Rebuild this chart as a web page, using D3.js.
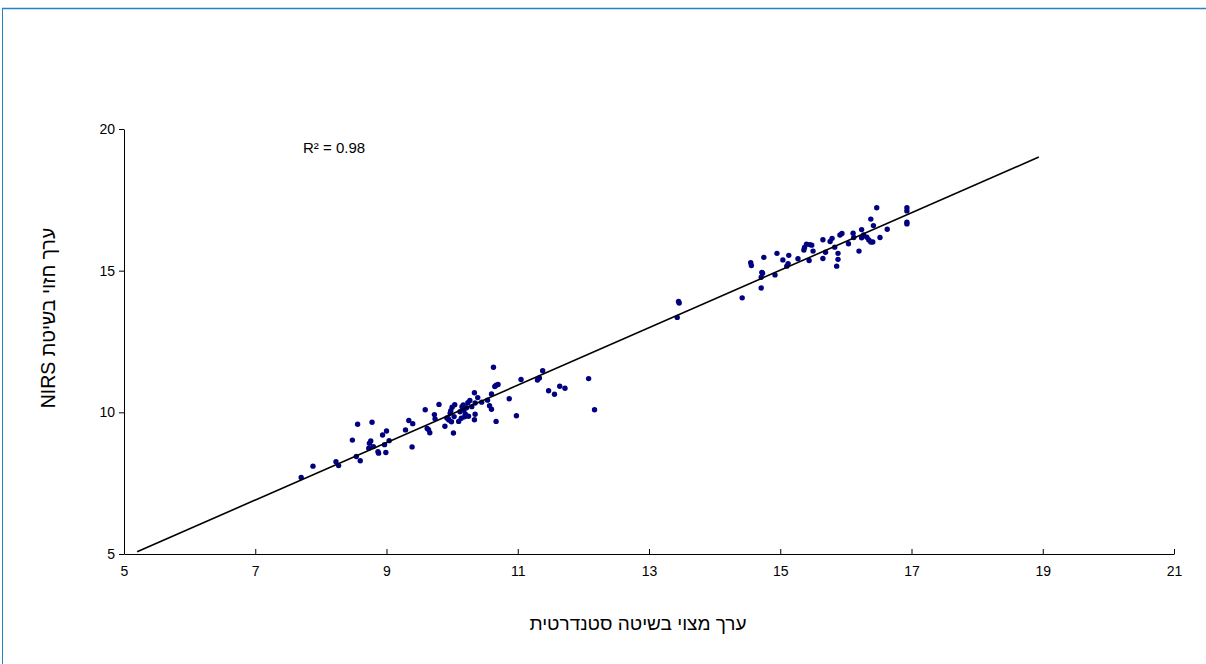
<!DOCTYPE html>
<html>
<head>
<meta charset="utf-8">
<script src="https://cdn.jsdelivr.net/npm/d3@7/dist/d3.min.js"></script>
<style>
  html, body { margin: 0; padding: 0; background: #fff; }
  svg { display: block; font-family: "Liberation Sans", Arial, sans-serif; }
</style>
</head>
<body>
<svg id="chart" width="1206" height="664"></svg>
<script>
// Measured by the standard method (x) vs. NIRS prediction (y)
const standardValues = [
  7.70, 7.88, 8.23, 8.27, 8.54, 8.60, 8.48, 8.56, 8.78, 8.76, 8.74, 8.73, 8.80, 8.87, 8.88,
  8.99, 8.94, 9.00, 8.97, 9.04, 9.29, 9.34, 9.40, 9.39, 9.59, 9.62, 9.64, 9.66, 9.73, 9.74,
  9.80, 9.89, 10.02, 9.94, 9.97, 9.98, 10.00, 10.04, 9.99, 10.03, 10.10, 10.12, 10.15, 10.18,
  10.20, 10.22, 10.25, 10.27, 10.30, 10.34, 10.35, 10.35, 10.34, 10.39, 10.45, 10.54, 10.57,
  10.60, 10.60, 10.63, 10.65, 10.67, 10.70, 10.67, 10.87, 10.98, 11.05, 11.30, 11.33, 11.38,
  11.47, 11.56, 11.64, 11.72, 12.08, 12.17,
  10.17, 10.24, 9.95, 9.92, 10.14, 10.19,
  13.45, 13.46, 13.43, 14.42, 14.71, 14.71, 14.73, 14.72, 14.55, 14.56, 14.75, 14.92, 14.95,
  15.04, 15.10, 15.12, 15.13, 15.27, 15.36, 15.37, 15.40, 15.45, 15.48, 15.44, 15.50, 15.65,
  15.65, 15.69, 15.76, 15.79, 15.83, 15.88, 15.88, 15.86, 15.91, 15.94, 16.04, 16.11, 16.12,
  16.20, 16.24, 16.24, 16.27, 16.32, 16.35, 16.38, 16.41, 16.38, 16.42, 16.47, 16.52, 16.63,
  16.93, 16.93, 16.93, 16.93
];
const nirsValues = [
  7.70, 8.10, 8.26, 8.12, 8.44, 8.29, 9.02, 9.58, 9.65, 8.99, 8.91, 8.73, 8.79, 8.61, 8.56,
  8.58, 9.20, 9.34, 8.86, 9.00, 9.38, 9.71, 9.60, 8.78, 10.09, 9.43, 9.39, 9.28, 9.92, 9.77,
  10.28, 9.51, 9.27, 9.78, 9.97, 10.06, 10.18, 10.27, 9.67, 9.85, 9.68, 10.02, 10.20, 10.08,
  9.94, 10.16, 9.86, 10.42, 10.20, 10.69, 10.33, 9.93, 9.74, 10.52, 10.36, 10.43, 10.23,
  10.11, 10.65, 11.59, 10.91, 10.96, 10.98, 9.68, 10.48, 9.88, 11.16, 11.14, 11.21, 11.47,
  10.76, 10.64, 10.92, 10.85, 11.19, 10.09,
  10.26, 10.34, 9.73, 9.80, 9.79, 9.84,
  13.91, 13.86, 13.35, 14.04, 14.39, 14.77, 14.91, 14.94, 15.28, 15.18, 15.47, 14.85, 15.61,
  15.38, 15.16, 15.25, 15.54, 15.42, 15.73, 15.82, 15.93, 15.92, 15.90, 15.36, 15.69, 16.09,
  15.43, 15.65, 16.03, 16.14, 15.83, 15.61, 15.40, 15.16, 16.26, 16.31, 15.95, 16.32, 16.17,
  15.69, 16.45, 16.16, 16.26, 16.18, 16.08, 16.01, 16.01, 16.82, 16.59, 17.22, 16.17, 16.46,
  17.22, 17.11, 16.71, 16.65
];

// Linear trend line endpoints
const trendX = [5.2, 18.94];
const trendY = [5.08, 19.01];

const xTicks = [5, 7, 9, 11, 13, 15, 17, 19, 21];
const yTicks = [5, 10, 15, 20];
const rSquaredLabel = "R² = 0.98";
const xTitle = "ערך מצוי בשיטה סטנדרטית";
const yTitle = "ערך חזוי בשיטת NIRS";

const svg = d3.select("#chart");

// Outer frame
svg.append("line").attr("x1", 2).attr("x2", 1206).attr("y1", 8.5).attr("y2", 8.5)
  .attr("stroke", "#1f86c4").attr("stroke-width", 1.5);
svg.append("line").attr("x1", 2.5).attr("x2", 2.5).attr("y1", 8).attr("y2", 664)
  .attr("stroke", "#1f86c4").attr("stroke-width", 1);

const x = d3.scaleLinear().domain([5, 21]).range([124, 1174]);
const y = d3.scaleLinear().domain([5, 20]).range([554, 129]);

// X axis: ticks point up into the plot
const xAxis = svg.append("g").attr("transform", "translate(0,554)")
  .call(d3.axisBottom(x).tickValues(xTicks).tickSize(-5).tickSizeOuter(0).tickPadding(12));
// Y axis: ticks point outward
const yAxis = svg.append("g").attr("transform", "translate(124,0)")
  .call(d3.axisLeft(y).tickValues(yTicks).tickSize(5).tickSizeOuter(0).tickPadding(4));

[xAxis, yAxis].forEach(g => {
  g.select(".domain").attr("stroke", "#000").attr("stroke-width", 1);
  g.selectAll(".tick line").attr("stroke", "#000");
  g.selectAll(".tick text").attr("fill", "#000")
    .style("font-family", "'Liberation Sans', Arial, sans-serif").style("font-size", "14px");
});

// Points
const pts = standardValues.map((v, i) => ({ sx: v, ny: nirsValues[i] }));
svg.append("g").selectAll("circle").data(pts).join("circle")
  .attr("cx", d => x(d.sx)).attr("cy", d => y(d.ny)).attr("r", 2.7)
  .attr("fill", "#000080");

// Trend line
svg.append("line")
  .attr("x1", x(trendX[0])).attr("y1", y(trendY[0]))
  .attr("x2", x(trendX[1])).attr("y2", y(trendY[1]))
  .attr("stroke", "#000").attr("stroke-width", 1.6);

// R² annotation
svg.append("text").attr("x", 303).attr("y", 153)
  .style("font-size", "15px").attr("fill", "#000").text(rSquaredLabel);

// Axis titles
svg.append("text").attr("x", 638).attr("y", 630).attr("text-anchor", "middle")
  .attr("direction", "rtl")
  .style("font-size", "19px").attr("fill", "#000").text(xTitle);
svg.append("text").attr("transform", "translate(55,318) rotate(-90)")
  .attr("text-anchor", "middle").attr("direction", "rtl")
  .style("font-size", "19.5px").attr("fill", "#000").text(yTitle);
</script>
</body>
</html>
